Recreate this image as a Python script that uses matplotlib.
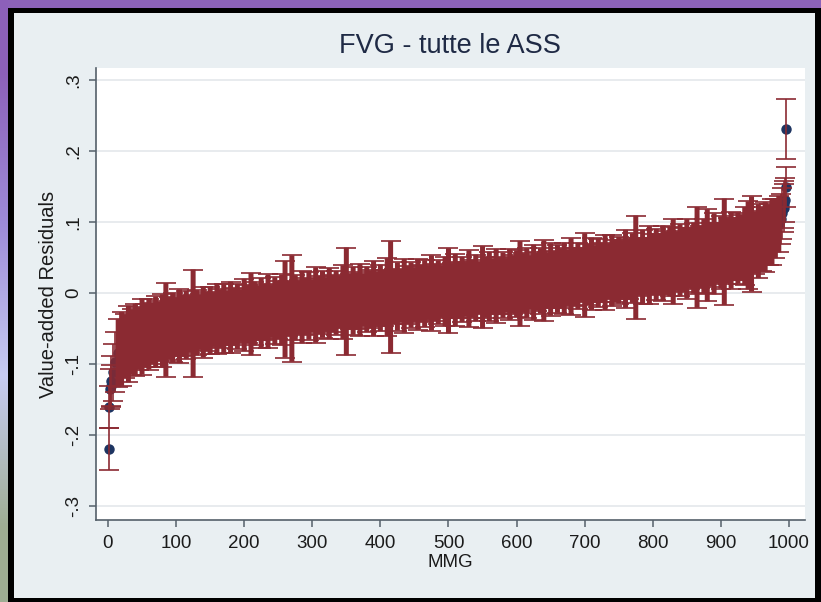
import matplotlib.pyplot as plt
import numpy as np
from matplotlib.patches import Rectangle

plt.rcParams["font.family"] = ["Liberation Sans", "DejaVu Sans"]

TITLE = "FVG - tutte le ASS"
X_LABEL = "MMG"
Y_LABEL = "Value-added Residuals"

x_ticks = [0, 100, 200, 300, 400, 500, 600, 700, 800, 900, 1000]
y_ticks = [-0.3, -0.2, -0.1, 0, 0.1, 0.2, 0.3]
y_tick_labels = ["-.3", "-.2", "-.1", "0", ".1", ".2", ".3"]

# lowest ranked MMG (isolated points on the left)
lo_rank = [1, 2, 3, 4, 5, 7, 10]
lo_resid = [-0.220, -0.161, -0.135, -0.131, -0.124, -0.112, -0.097]
lo_half = [0.030, 0.030, 0.028, 0.030, 0.035, 0.040, 0.042]

# main body of the caterpillar, every 5th rank
body_rank = list(range(15, 986, 5))
body_resid = [
    -0.085, -0.079, -0.075, -0.072, -0.069, -0.066, -0.064, -0.062, -0.060, -0.058,
    -0.057, -0.055, -0.054, -0.053, -0.052, -0.050, -0.049, -0.048, -0.047, -0.046,
    -0.045, -0.044, -0.043, -0.042, -0.041, -0.041, -0.040, -0.039, -0.038, -0.037,
    -0.036, -0.036, -0.035, -0.034, -0.033, -0.033, -0.032, -0.031, -0.030, -0.030,
    -0.029, -0.028, -0.028, -0.027, -0.026, -0.026, -0.025, -0.024, -0.024, -0.023,
    -0.022, -0.022, -0.021, -0.020, -0.020, -0.019, -0.018, -0.018, -0.017, -0.017,
    -0.016, -0.016, -0.015, -0.015, -0.014, -0.013, -0.013, -0.012, -0.012, -0.011,
    -0.011, -0.010, -0.010, -0.009, -0.009, -0.008, -0.008, -0.007, -0.007, -0.006,
    -0.006, -0.005, -0.005, -0.004, -0.004, -0.003, -0.003, -0.002, -0.002, -0.001,
    -0.001, 0.000, 0.000, 0.001, 0.001, 0.002, 0.002, 0.003, 0.003, 0.004,
    0.004, 0.005, 0.005, 0.006, 0.006, 0.007, 0.007, 0.008, 0.008, 0.009,
    0.009, 0.010, 0.010, 0.011, 0.011, 0.012, 0.012, 0.013, 0.013, 0.014,
    0.014, 0.015, 0.015, 0.016, 0.017, 0.017, 0.018, 0.019, 0.019, 0.020,
    0.021, 0.021, 0.022, 0.023, 0.023, 0.024, 0.025, 0.025, 0.026, 0.027,
    0.027, 0.028, 0.029, 0.029, 0.030, 0.031, 0.031, 0.032, 0.033, 0.034,
    0.034, 0.035, 0.036, 0.037, 0.037, 0.038, 0.039, 0.040, 0.040, 0.041,
    0.042, 0.043, 0.044, 0.044, 0.045, 0.046, 0.047, 0.048, 0.049, 0.049,
    0.050, 0.051, 0.052, 0.053, 0.054, 0.055, 0.056, 0.057, 0.058, 0.059,
    0.060, 0.062, 0.063, 0.064, 0.066, 0.067, 0.069, 0.071, 0.073, 0.076,
    0.079, 0.082, 0.086, 0.091, 0.097,
]
body_half = [
    0.048, 0.052, 0.045, 0.054, 0.046, 0.051, 0.044, 0.053, 0.045, 0.050,
    0.043, 0.050, 0.042, 0.051, 0.066, 0.044, 0.049, 0.041, 0.052, 0.043,
    0.048, 0.040, 0.076, 0.046, 0.039, 0.050, 0.042, 0.047, 0.038, 0.049,
    0.041, 0.048, 0.038, 0.050, 0.040, 0.046, 0.037, 0.051, 0.041, 0.058,
    0.045, 0.038, 0.049, 0.040, 0.052, 0.037, 0.047, 0.041, 0.050, 0.068,
    0.039, 0.075, 0.046, 0.038, 0.051, 0.040, 0.048, 0.037, 0.053, 0.041,
    0.047, 0.038, 0.050, 0.040, 0.045, 0.037, 0.052, 0.076, 0.039, 0.048,
    0.040, 0.051, 0.037, 0.046, 0.041, 0.053, 0.038, 0.047, 0.040, 0.055,
    0.079, 0.039, 0.048, 0.037, 0.052, 0.041, 0.046, 0.038, 0.050, 0.040,
    0.047, 0.038, 0.053, 0.040, 0.045, 0.037, 0.049, 0.060, 0.039, 0.051,
    0.040, 0.046, 0.038, 0.054, 0.041, 0.047, 0.037, 0.058, 0.043, 0.049,
    0.039, 0.052, 0.040, 0.046, 0.038, 0.050, 0.041, 0.047, 0.060, 0.042,
    0.049, 0.038, 0.053, 0.041, 0.046, 0.057, 0.039, 0.051, 0.040, 0.048,
    0.042, 0.050, 0.039, 0.054, 0.041, 0.047, 0.038, 0.059, 0.043, 0.051,
    0.040, 0.048, 0.042, 0.053, 0.039, 0.050, 0.044, 0.047, 0.041, 0.055,
    0.043, 0.049, 0.073, 0.041, 0.052, 0.040, 0.055, 0.043, 0.050, 0.042,
    0.053, 0.044, 0.049, 0.060, 0.042, 0.051, 0.045, 0.056, 0.043, 0.050,
    0.071, 0.044, 0.052, 0.065, 0.045, 0.057, 0.043, 0.051, 0.075, 0.046,
    0.054, 0.044, 0.050, 0.046, 0.055, 0.062, 0.067, 0.044, 0.052, 0.045,
    0.049, 0.043, 0.047, 0.042, 0.040,
]

# highest ranked MMG (right tail)
hi_rank = [988, 990, 992, 993, 994, 995, 996]
hi_resid = [0.104, 0.112, 0.120, 0.125, 0.131, 0.149, 0.231]
hi_half = [0.035, 0.036, 0.034, 0.033, 0.031, 0.028, 0.042]

RED = "#8b2a32"
NAVY = "#1d3461"
PANEL = "#e9eff2"
SPINE = "#55606a"
TEXT = "#1b1b1b"

W, H = 821, 602
fig = plt.figure(figsize=(W / 100, H / 100), dpi=100, facecolor="black")

# screenshot frame: purple strip on top, gradient strip on the left, grey panel
fig.patches.append(Rectangle((0, 1 - 8 / H), 1, 8 / H, transform=fig.transFigure,
                             facecolor="#8c62b9", edgecolor="none", zorder=-2))
fig.patches.append(Rectangle((14 / W, 4 / H), (815 - 14) / W, (589 - 4) / H,
                             transform=fig.transFigure, facecolor=PANEL,
                             edgecolor="none", zorder=-2))
strip = fig.add_axes([0, 0, 7 / W, 1])
grad = np.array([[0.55, 0.38, 0.73], [0.62, 0.55, 0.85], [0.78, 0.80, 0.95], [0.62, 0.68, 0.58]])
strip.imshow(grad[:, None, :], aspect="auto", interpolation="bilinear")
strip.axis("off")

ax = fig.add_axes([96 / W, 1 - 520 / H, (805 - 96) / W, (520 - 68) / H])
ax.set_zorder(2)
ax.set_facecolor("white")

ax.plot(lo_rank + body_rank + hi_rank, lo_resid + body_resid + hi_resid, "o",
        color=NAVY, markersize=6.5, zorder=2)
body = ax.errorbar(body_rank, body_resid, yerr=body_half, fmt="none", ecolor=RED,
                   elinewidth=3.6, capsize=7, capthick=1.2, zorder=3)
for coll in body[2]:
    coll.set_snap(False)
ax.errorbar(lo_rank, lo_resid, yerr=lo_half, fmt="none", ecolor=RED,
            elinewidth=1.2, capsize=7, capthick=1.2, zorder=3)
ax.errorbar(hi_rank, hi_resid, yerr=hi_half, fmt="none", ecolor=RED,
            elinewidth=1.2, capsize=7, capthick=1.2, zorder=3)

ax.set_xlim(-17.6, 1023.5)
ax.set_ylim(-0.320, 0.317)
ax.set_xticks(x_ticks)
ax.set_yticks(y_ticks)
ax.set_yticklabels(y_tick_labels, rotation=90, va="center")
ax.grid(axis="y", color="#e4e8eb", linewidth=1.2, zorder=0)
ax.set_axisbelow(True)

for s in ["top", "right"]:
    ax.spines[s].set_visible(False)
for s in ["left", "bottom"]:
    ax.spines[s].set_color(SPINE)
    ax.spines[s].set_linewidth(1.2)
ax.tick_params(colors=SPINE, labelcolor=TEXT, labelsize=13.5, length=5, width=1.1)
ax.tick_params(axis="x", pad=6)
ax.tick_params(axis="y", pad=5)

ax.set_xlabel(X_LABEL, fontsize=13.5, color=TEXT, labelpad=1)
ax.set_ylabel(Y_LABEL, fontsize=14.5, color=TEXT, labelpad=5)
fig.text(450 / W, 1 - 46 / H, TITLE, ha="center", va="center", fontsize=19.5, color="#1f2a45")

fig.savefig("out.png", dpi=100, facecolor="black")
